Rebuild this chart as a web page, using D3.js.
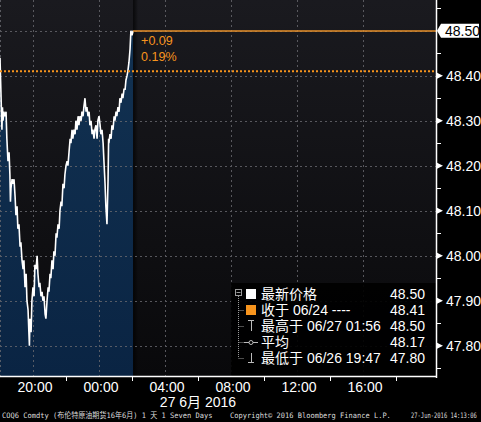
<!DOCTYPE html>
<html lang="zh">
<head>
<meta charset="UTF-8">
<title>COQ6 Comdty</title>
<script src="https://d3js.org/d3.v7.min.js"></script>
<style>
  body { margin: 0; background: #000; }
  svg { display: block; }
</style>
</head>
<body>
<script>
// minutes after 26 Jun 2016 18:00, and price
var minutes = [0, 4, 7, 9, 11, 14, 18, 22, 25, 29, 33, 36, 38, 40, 44, 47, 51, 55, 58, 62, 65, 69, 73,
  76, 80, 84, 87, 91, 95, 98, 102, 105, 107, 109, 113, 116, 120, 124, 127, 131, 135, 138, 142,
  145, 149, 153, 156, 160, 164, 167, 171, 175, 178, 182, 185, 189, 193, 196, 200, 204, 207, 211, 215,
  218, 222, 225, 229, 233, 236, 240, 244, 247, 251, 255, 258, 262, 265, 269, 273, 276, 280, 284, 287,
  291, 295, 298, 302, 305, 309, 313, 316, 320, 324, 327, 331, 335, 338, 342, 345, 349, 353, 356, 360,
  364, 367, 371, 375, 378, 382, 385, 389, 393, 395, 396, 400, 404, 407, 411, 415, 418, 422, 425, 429,
  433, 436, 440, 444, 447, 451, 455, 458, 462, 465, 469, 473, 476, 480, 484];
var prices = [48.44, 48.35, 48.28, 48.33, 48.30, 48.32, 48.31, 48.32, 48.26, 48.21, 48.23, 48.18, 48.12, 48.15, 48.17, 48.16, 48.17, 48.13, 48.09, 48.11, 48.06, 48.07, 48.02,
  48.03, 47.99, 47.97, 47.99, 47.93, 47.96, 47.90, 47.88, 47.83, 47.80, 47.86, 47.83, 47.90, 47.93, 47.91, 47.98, 47.97, 48.00, 47.96, 47.93,
  47.94, 47.91, 47.92, 47.90, 47.91, 47.87, 47.86, 47.90, 47.93, 47.92, 47.96, 47.95, 47.99, 47.97, 48.01, 48.00, 48.05, 48.04, 48.07, 48.06,
  48.10, 48.12, 48.11, 48.16, 48.15, 48.18, 48.20, 48.21, 48.20, 48.23, 48.26, 48.25, 48.28, 48.26, 48.28, 48.27, 48.30, 48.28, 48.31, 48.29,
  48.31, 48.30, 48.32, 48.31, 48.33, 48.35, 48.32, 48.33, 48.31, 48.32, 48.29, 48.30, 48.27, 48.28, 48.26, 48.28, 48.29, 48.26, 48.30, 48.31,
  48.29, 48.27, 48.28, 48.25, 48.21, 48.16, 48.11, 48.07, 48.17, 48.26, 48.25, 48.27, 48.26, 48.29, 48.28, 48.31, 48.30, 48.32, 48.31, 48.33,
  48.32, 48.35, 48.34, 48.36, 48.35, 48.37, 48.37, 48.39, 48.40, 48.41, 48.43, 48.46, 48.50, 48.49, 48.50];

var lastPrice = 48.50;
var prevClose = 48.41;
var yLabels = [48.50, 48.40, 48.30, 48.20, 48.10, 48.00, 47.90, 47.80];
var yMinor = [48.55, 48.45, 48.35, 48.25, 48.15, 48.05, 47.95, 47.85, 47.75];
var xLabelHours = [20, 24, 28, 32, 36, 40];   // hours after 26 Jun 00:00
var xMinorHours = [22, 26, 30, 34, 38, 42];
var xLabels = ["20:00", "00:00", "04:00", "08:00", "12:00", "16:00"];
var dateLabel = "27 6月 2016";
var changeText = ["+0.09", "0.19%"];
var legendNames = ["最新价格", "收于 06/24 ----", "最高于 06/27 01:56", "平均", "最低于 06/26 19:47"];
var legendValues = ["48.50", "48.41", "48.50", "48.17", "47.80"];
var footer = ["COQ6 Comdty (布伦特原油期货16年6月) 1 天 1 Seven Days",
  "Copyright© 2016 Bloomberg Finance L.P.", "27-Jun-2016 14:13:06"];

var W = 481, H = 422, plotW = 436, plotH = 376;
var day0 = new Date(2016, 5, 26, 0, 0);
var start = new Date(2016, 5, 26, 18, 0);
var hour = 3600 * 1000;

var x = d3.scaleTime()
  .domain([start, new Date(2016, 5, 27, 20, 25, 30)])
  .range([0, plotW]);
var y = d3.scaleLinear().domain([47.7327, 48.5682]).range([plotH, 0]);

var data = minutes.map(function (m, i) {
  return { t: new Date(start.getTime() + m * 60000), p: prices[i] };
});

var svg = d3.select("body").append("svg").attr("width", W).attr("height", H);
var defs = svg.append("defs");

var bg = defs.append("linearGradient").attr("id", "bg").attr("x1", 0).attr("y1", 0).attr("x2", 0).attr("y2", 1);
bg.append("stop").attr("offset", "0%").attr("stop-color", "#1a1a1f");
bg.append("stop").attr("offset", "100%").attr("stop-color", "#09090b");

var fillG = defs.append("linearGradient").attr("id", "fillG").attr("x1", 0).attr("y1", 0).attr("x2", 0).attr("y2", 1);
fillG.append("stop").attr("offset", "0%").attr("stop-color", "#123252");
fillG.append("stop").attr("offset", "100%").attr("stop-color", "#0a2443");

var shade = defs.append("linearGradient").attr("id", "shade");
shade.append("stop").attr("offset", "0%").attr("stop-color", "#000").attr("stop-opacity", 0.7);
shade.append("stop").attr("offset", "100%").attr("stop-color", "#000").attr("stop-opacity", 0);

svg.append("rect").attr("width", W).attr("height", H).attr("fill", "#000");
svg.append("rect").attr("width", plotW).attr("height", plotH).attr("fill", "url(#bg)");

// blue area under the price
var area = d3.area().x(function (d) { return x(d.t); }).y0(plotH).y1(function (d) { return y(d.p); });
svg.append("path").datum(data).attr("d", area).attr("fill", "url(#fillG)");
var endX = x(data[data.length - 1].t);
svg.append("rect").attr("x", endX).attr("y", 0).attr("width", 5).attr("height", plotH).attr("fill", "url(#shade)");

// grid
var grid = svg.append("g").attr("stroke", "#6a6a70").attr("stroke-width", 1).attr("stroke-dasharray", "2,3").attr("opacity", 0.8);
yLabels.forEach(function (v) {
  grid.append("line").attr("x1", 0).attr("x2", plotW).attr("y1", Math.round(y(v)) + 0.5).attr("y2", Math.round(y(v)) + 0.5);
});
xLabelHours.forEach(function (h) {
  var px = Math.round(x(new Date(day0.getTime() + h * hour))) + 0.5;
  grid.append("line").attr("x1", px).attr("x2", px).attr("y1", 0).attr("y2", plotH);
});
grid.append("line").attr("x1", 0.5).attr("x2", 0.5).attr("y1", 0).attr("y2", plotH);

// price line
var line = d3.line().x(function (d) { return x(d.t); }).y(function (d) { return y(d.p); });
svg.append("path").datum(data).attr("d", line).attr("fill", "none")
  .attr("stroke", "#fff").attr("stroke-width", 1.6).attr("stroke-linejoin", "miter");

// previous close and last price lines
var orange = "#f7941d";
svg.append("line").attr("x1", 0).attr("x2", plotW).attr("y1", y(prevClose)).attr("y2", y(prevClose))
  .attr("stroke", orange).attr("stroke-width", 2).attr("stroke-dasharray", "2,2");
svg.append("line").attr("x1", endX).attr("x2", plotW).attr("y1", Math.round(y(lastPrice)))
  .attr("y2", Math.round(y(lastPrice)))
  .attr("stroke", "#e8912a").attr("stroke-width", 1.5);
changeText.forEach(function (t, i) {
  svg.append("text").attr("x", endX + 8).attr("y", y(lastPrice) + 14 + i * 16)
    .attr("fill", orange).attr("font-family", "Liberation Sans, Arial, sans-serif").attr("font-size", 12.5).text(t);
});

// legend
var lg = svg.append("g");
lg.append("rect").attr("x", 231).attr("y", 283).attr("width", plotW - 231).attr("height", plotH - 283).attr("fill", "#000").attr("opacity", 0.92);
var rowY = [299, 315, 331, 347, 363];
var treeCol = "#9a9a9a";
lg.append("rect").attr("x", 235.5).attr("y", 289.5).attr("width", 6).attr("height", 6).attr("fill", "none").attr("stroke", treeCol);
lg.append("line").attr("x1", 236.5).attr("x2", 240.5).attr("y1", 292.5).attr("y2", 292.5).attr("stroke", treeCol);
lg.append("line").attr("x1", 238.5).attr("x2", 238.5).attr("y1", 296).attr("y2", rowY[4] - 5).attr("stroke", treeCol).attr("stroke-dasharray", "1,1");
rowY.forEach(function (ry, i) {
  if (i > 0) lg.append("line").attr("x1", 238.5).attr("x2", 244).attr("y1", ry - 4.5).attr("y2", ry - 4.5).attr("stroke", treeCol).attr("stroke-dasharray", "1,1");
  var cx = 251;
  if (i === 0) lg.append("rect").attr("x", cx - 5).attr("y", ry - 10).attr("width", 10).attr("height", 10).attr("fill", "#fff");
  if (i === 1) lg.append("rect").attr("x", cx - 5).attr("y", ry - 10).attr("width", 10).attr("height", 10).attr("fill", orange);
  if (i === 2) {
    lg.append("line").attr("x1", cx - 3).attr("x2", cx + 3).attr("y1", ry - 10.5).attr("y2", ry - 10.5).attr("stroke", "#bbb");
    lg.append("line").attr("x1", cx + 0.5).attr("x2", cx + 0.5).attr("y1", ry - 10).attr("y2", ry).attr("stroke", "#bbb");
  }
  if (i === 3) {
    lg.append("line").attr("x1", cx - 7).attr("x2", cx + 7).attr("y1", ry - 4.5).attr("y2", ry - 4.5).attr("stroke", "#bbb");
    lg.append("circle").attr("cx", cx).attr("cy", ry - 4.5).attr("r", 2).attr("fill", "#000").attr("stroke", "#bbb");
  }
  if (i === 4) {
    lg.append("line").attr("x1", cx + 0.5).attr("x2", cx + 0.5).attr("y1", ry - 10).attr("y2", ry).attr("stroke", "#bbb");
    lg.append("line").attr("x1", cx - 3).attr("x2", cx + 3).attr("y1", ry - 0.5).attr("y2", ry - 0.5).attr("stroke", "#bbb");
  }
  lg.append("text").attr("x", 261).attr("y", ry).attr("fill", "#fff")
    .attr("font-family", "Liberation Sans, Noto Sans CJK SC, sans-serif").attr("font-size", 14).text(legendNames[i]);
  lg.append("text").attr("x", 425).attr("y", ry).attr("fill", "#fff").attr("text-anchor", "end")
    .attr("font-family", "Liberation Sans, Arial, sans-serif").attr("font-size", 14).text(legendValues[i]);
});

// axes
var axisFont = "Liberation Sans, Arial, sans-serif";
svg.append("line").attr("x1", plotW + 0.5).attr("x2", plotW + 0.5).attr("y1", 0).attr("y2", plotH + 2).attr("stroke", "#fff").attr("stroke-width", 1.5);
svg.append("line").attr("x1", 0).attr("x2", plotW + 1).attr("y1", plotH + 0.5).attr("y2", plotH + 0.5).attr("stroke", "#fff").attr("stroke-width", 1.5);

yMinor.forEach(function (v) {
  svg.append("line").attr("x1", plotW).attr("x2", plotW + 5).attr("y1", Math.round(y(v)) + 0.5).attr("y2", Math.round(y(v)) + 0.5).attr("stroke", "#fff");
});
yLabels.forEach(function (v) {
  var py = y(v);
  if (v === lastPrice) {
    svg.append("path").attr("d", "M" + (plotW + 1) + "," + py + "L" + (plotW + 5) + "," + (py - 7) + "H" + (W - 2) + "V" + (py + 7) + "H" + (plotW + 5) + "Z").attr("fill", "#fff");
    svg.append("text").attr("x", 445).attr("y", py + 5).attr("fill", "#000").attr("font-family", axisFont).attr("font-size", 14).text(v.toFixed(2));
  } else {
    svg.append("path").attr("d", "M" + (plotW + 1) + "," + (py - 3) + "L" + (plotW + 7) + "," + py + "L" + (plotW + 1) + "," + (py + 3) + "Z").attr("fill", "#fff");
    svg.append("text").attr("x", 446).attr("y", py + 5).attr("fill", "#fff").attr("font-family", axisFont).attr("font-size", 14).text(v.toFixed(2));
  }
});

xMinorHours.forEach(function (h) {
  var px = Math.round(x(new Date(day0.getTime() + h * hour))) + 0.5;
  svg.append("line").attr("x1", px).attr("x2", px).attr("y1", plotH).attr("y2", plotH + 5).attr("stroke", "#fff");
});
xLabelHours.forEach(function (h, i) {
  svg.append("text").attr("x", x(new Date(day0.getTime() + h * hour)) + 2).attr("y", 392)
    .attr("text-anchor", "middle").attr("fill", "#fff").attr("font-family", axisFont).attr("font-size", 14).text(xLabels[i]);
});
svg.append("text").attr("x", (x(new Date(day0.getTime() + 28 * hour)) + x(new Date(day0.getTime() + 32 * hour))) / 2)
  .attr("y", 407).attr("text-anchor", "middle").attr("fill", "#fff")
  .attr("font-family", "Liberation Sans, Noto Sans CJK SC, sans-serif").attr("font-size", 14).text(dateLabel);

// footer: squeeze each string into the width it takes in the reference
var fx = [[2, 211], [230, 161], [411, 66]];
footer.forEach(function (t, i) {
  var g = svg.append("g");
  var txt = g.append("text").attr("x", 0).attr("y", 0).attr("fill", "#ddd")
    .attr("font-family", "DejaVu Sans Mono, Noto Sans CJK SC, monospace").attr("font-size", 7.5).text(t);
  var natural = txt.node().getComputedTextLength();
  g.attr("transform", "translate(" + fx[i][0] + ",418) scale(" + (fx[i][1] / natural) + ",1)");
});
</script>
</body>
</html>
